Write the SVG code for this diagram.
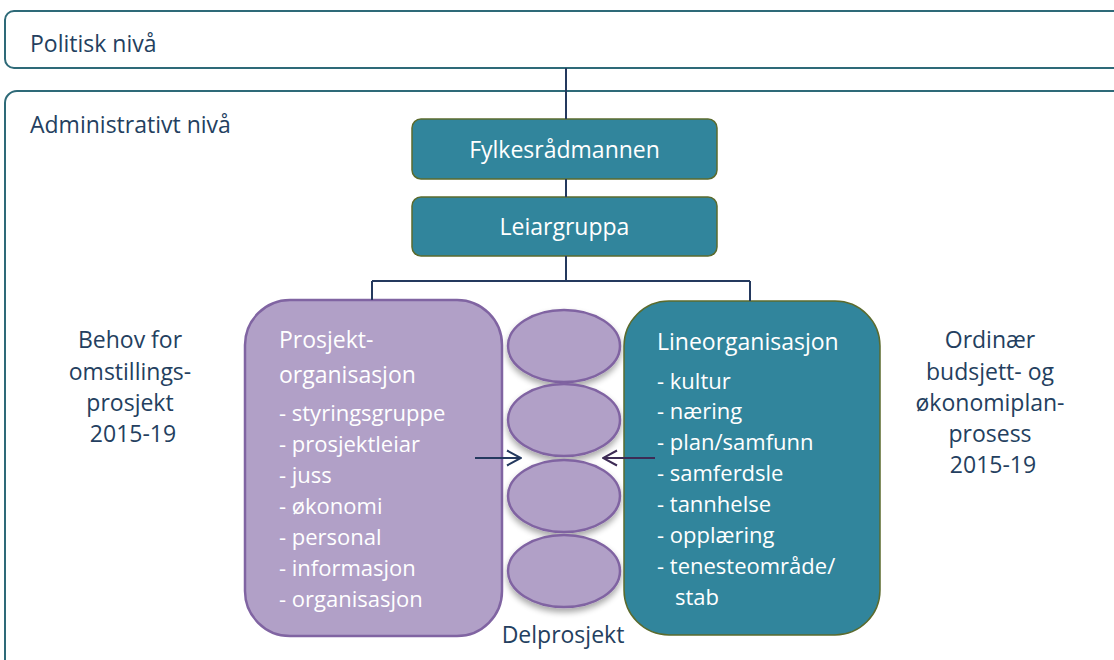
<svg xmlns="http://www.w3.org/2000/svg" width="1114" height="660" viewBox="0 0 1114 660">
<style>
.frame{fill:#fff;stroke:#2e6a78;stroke-width:2}
.teal{fill:#31859c;stroke:#5b6b2e;stroke-width:1.5}
.purp{fill:#b1a0c7;stroke:#8064a2;stroke-width:2.5}
.ell{fill:#b1a0c7;stroke:#8064a2;stroke-width:2.5}
.t{font-family:"Open Sans","Noto Sans",sans-serif;font-size:23px}
.li{font-size:22px}
.w{fill:#fff}
.d{fill:#243f60}
.ln{stroke:#24395e;stroke-width:2;fill:none}
</style>
<defs>
<filter id="sh" x="-20%" y="-20%" width="140%" height="160%">
<feGaussianBlur in="SourceAlpha" stdDeviation="3"/>
<feOffset dx="0" dy="4"/>
<feComponentTransfer><feFuncA type="linear" slope="0.35"/></feComponentTransfer>
<feMerge><feMergeNode/><feMergeNode in="SourceGraphic"/></feMerge>
</filter>
<marker id="arA" viewBox="0 0 16 18" refX="15" refY="9" markerWidth="16" markerHeight="18" markerUnits="userSpaceOnUse" orient="auto">
<path d="M1,1.5 L15,9 L1,16.5" fill="none" stroke="#24395e" stroke-width="2"/>
</marker>
<marker id="arB" viewBox="0 0 16 18" refX="15" refY="9" markerWidth="16" markerHeight="18" markerUnits="userSpaceOnUse" orient="auto">
<path d="M1,1.5 L15,9 L1,16.5" fill="none" stroke="#3d2b55" stroke-width="2"/>
</marker>
</defs>
<g id="politisk">
<rect class="frame" x="5" y="11" width="1120" height="57" rx="9"/>
<text class="t d" x="30" y="52">Politisk nivå</text>
</g>
<g id="administrativt">
<rect class="frame" x="5" y="91" width="1120" height="590" rx="12"/>
<text class="t d" x="30" y="133">Administrativt nivå</text>
</g>
<g id="fylkesradmannen">
<rect class="teal" x="412" y="119" width="305" height="60" rx="9"/>
<text class="t w" x="564.5" y="158" text-anchor="middle">Fylkesrådmannen</text>
</g>
<g id="leiargruppa">
<rect class="teal" x="412" y="197" width="305" height="59" rx="9"/>
<text class="t w" x="564.5" y="235" text-anchor="middle">Leiargruppa</text>
</g>
<g id="prosjektorganisasjon">
<rect class="purp" x="245" y="300" width="257" height="336" rx="45"/>
<text class="t w" x="279">
<tspan x="279" y="348">Prosjekt-</tspan>
<tspan x="279" y="383">organisasjon</tspan>
</text>
<text class="t li w">
<tspan x="279" y="421">- styringsgruppe</tspan>
<tspan x="279" y="452">- prosjektleiar</tspan>
<tspan x="279" y="483">- juss</tspan>
<tspan x="279" y="514">- økonomi</tspan>
<tspan x="279" y="545">- personal</tspan>
<tspan x="279" y="576">- informasjon</tspan>
<tspan x="279" y="607">- organisasjon</tspan>
</text>
</g>
<g id="delprosjekt">
<ellipse class="ell" cx="564" cy="346" rx="56" ry="36" filter="url(#sh)"/>
<ellipse class="ell" cx="564" cy="420" rx="56" ry="36" filter="url(#sh)"/>
<ellipse class="ell" cx="564" cy="496" rx="56" ry="36" filter="url(#sh)"/>
<ellipse class="ell" cx="564" cy="571" rx="56" ry="36" filter="url(#sh)"/>
<text class="t d" x="563" y="643" text-anchor="middle">Delprosjekt</text>
</g>
<g id="lineorganisasjon">
<rect class="teal" x="624" y="301" width="256" height="334" rx="45"/>
<text class="t w" x="657" y="350">Lineorganisasjon</text>
<text class="t li w">
<tspan x="657" y="389">- kultur</tspan>
<tspan x="657" y="419">- næring</tspan>
<tspan x="657" y="450">- plan/samfunn</tspan>
<tspan x="657" y="481">- samferdsle</tspan>
<tspan x="657" y="512">- tannhelse</tspan>
<tspan x="657" y="543">- opplæring</tspan>
<tspan x="657" y="574">- tenesteområde/</tspan>
<tspan x="675" y="605">stab</tspan>
</text>
</g>
<g id="behov">
<text class="t d" text-anchor="middle">
<tspan x="133" y="348">Behov for</tspan>
<tspan x="133" y="380">omstillings-</tspan>
<tspan x="133" y="411">prosjekt</tspan>
<tspan x="133" y="442">2015-19</tspan>
</text>
</g>
<g id="ordinaer">
<text class="t d" text-anchor="middle">
<tspan x="993" y="348">Ordinær</tspan>
<tspan x="993" y="380">budsjett- og</tspan>
<tspan x="993" y="411">økonomiplan-</tspan>
<tspan x="993" y="442">prosess</tspan>
<tspan x="993" y="473">2015-19</tspan>
</text>
</g>
<g id="connectors">
<path class="ln" d="M566,68 V119 M566,179 V197 M566,256 V281 M372,281 H750 M372,281 V300 M750,281 V301"/>
<path d="M475,458 H521" stroke="#24395e" stroke-width="2" fill="none" marker-end="url(#arA)"/>
<path d="M655,458 H603" stroke="#3d2b55" stroke-width="2" fill="none" marker-end="url(#arB)"/>
</g>
</svg>
